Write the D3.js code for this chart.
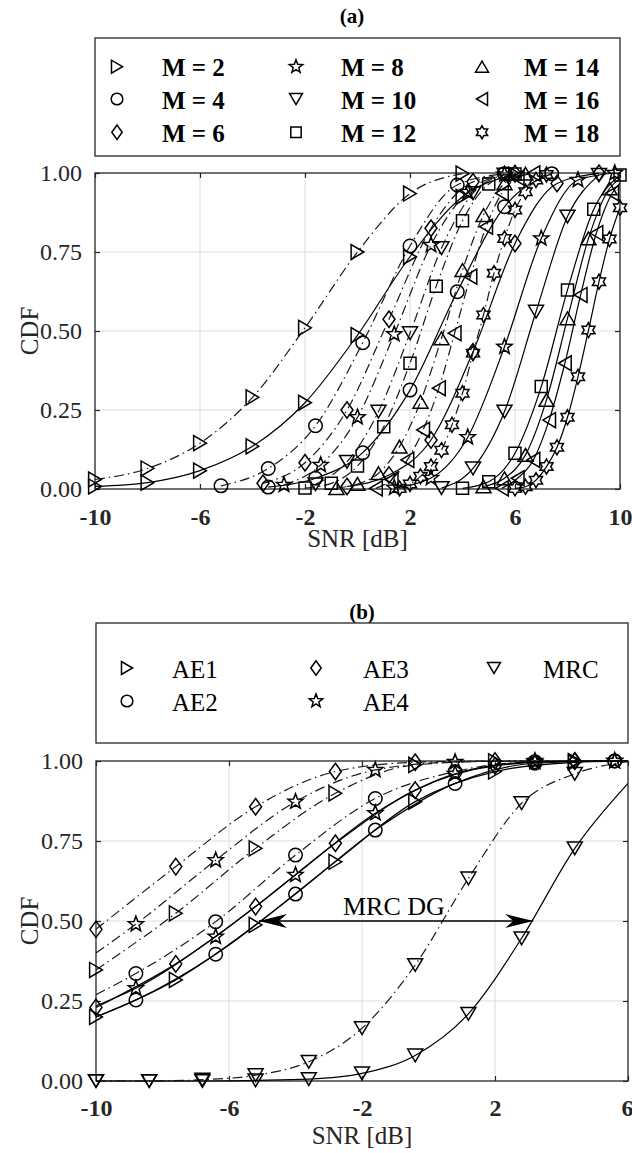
<!DOCTYPE html>
<html>
<head>
<meta charset="utf-8">
<script src="https://cdn.jsdelivr.net/npm/d3@7"></script>
<style>
  body { margin: 0; background: #fff; }
  svg { display: block; font-family: "Liberation Serif", "Times New Roman", serif; }
</style>
</head>
<body>
<div id="chart"></div>
<script>
// ---------- data, panel (a): CDF of SNR for M = 2..18 ----------
const aSnrTicks = [-10, -6, -2, 2, 6, 10];
const bSnrTicks = [-10, -6, -2, 2, 6];
const cdfTicks = [0, 0.25, 0.5, 0.75, 1];

const m2Dash   = [[-10,0.03],[-8,0.065],[-6,0.145],[-4,0.29],[-2,0.51],[0,0.75],[2,0.935],[4,0.998]];
const m2Solid  = [[-10,0.008],[-8,0.02],[-6,0.058],[-4,0.135],[-2,0.273],[0,0.487],[2,0.735],[4,0.925],[6,0.995]];
const m4Dash   = [[-5.2,0.01],[-3.4,0.065],[-1.6,0.2],[0.2,0.463],[2,0.769],[3.8,0.962],[5.6,0.998]];
const m4Solid  = [[-3.4,0.006],[-1.6,0.034],[0.2,0.115],[2,0.313],[3.8,0.624],[5.6,0.893],[7.4,0.998]];
const m6Dash   = [[-3.6,0.018],[-2,0.083],[-0.4,0.25],[1.2,0.537],[2.8,0.825],[4.4,0.972],[6,0.998]];
const m6Solid  = [[-0.4,0.008],[1.2,0.044],[2.8,0.155],[4.4,0.434],[6,0.777],[7.6,0.967],[9.2,0.999]];
const m8Dash   = [[-2.8,0.013],[-1.4,0.076],[0,0.227],[1.4,0.49],[2.8,0.772],[4.2,0.94],[5.6,0.995]];
const m8Solid  = [[1.4,0.004],[2.8,0.035],[4.2,0.164],[5.6,0.45],[7,0.793],[8.4,0.978],[9.8,1]];
const m10Dash  = [[-1.6,0.015],[-0.4,0.086],[0.8,0.245],[2,0.493],[3.2,0.762],[4.4,0.936],[5.6,0.995]];
const m10Solid = [[3.2,0.003],[4.4,0.065],[5.6,0.245],[6.8,0.561],[8,0.862],[9.2,0.994]];
const m12Dash  = [[-2,0.003],[-1,0.018],[0,0.073],[1,0.197],[2,0.398],[3,0.642],[4,0.849],[5,0.965],[6,0.997]];
const m12Solid = [[4,0.002],[5,0.023],[6,0.113],[7,0.324],[8,0.63],[9,0.885],[10,0.994]];
const m14Dash  = [[-0.8,0.003],[0,0.016],[0.8,0.05],[1.6,0.134],[2.4,0.276],[3.2,0.477],[4,0.693],[4.8,0.867],[5.6,0.967],[6.4,0.998]];
const m14Solid = [[4.8,0.008],[5.6,0.034],[6.4,0.108],[7.2,0.282],[8,0.54],[8.8,0.793],[9.6,0.951],[10.4,0.996]];
const m16Dash  = [[0.7,0.002],[1.3,0.03],[1.9,0.092],[2.5,0.187],[3.1,0.319],[3.7,0.493],[4.3,0.672],[4.9,0.83],[5.5,0.936],[6.1,0.985],[6.7,0.999]];
const m16Solid = [[5.5,0.002],[6.1,0.034],[6.7,0.092],[7.3,0.218],[7.9,0.398],[8.5,0.614],[9.1,0.81],[9.7,0.936],[10.3,0.985]];
const m18Dash  = [[1.6,0.002],[2,0.016],[2.4,0.04],[2.8,0.071],[3.2,0.123],[3.6,0.203],[4,0.303],[4.4,0.43],[4.8,0.551],[5.2,0.683],[5.6,0.793],[6,0.883],[6.4,0.941],[6.8,0.978],[7.2,0.995]];
const m18Solid = [[6,0.002],[6.4,0.007],[6.8,0.028],[7.2,0.071],[7.6,0.132],[8,0.227],[8.4,0.355],[8.8,0.503],[9.2,0.656],[9.6,0.791],[10,0.89]];

// ---------- data, panel (b): AE1..AE4 and MRC ----------
const ae1Dash  = [[-10,0.347],[-7.6,0.524],[-5.2,0.727],[-2.8,0.899],[-0.4,0.988],[2,0.999],[4.4,1],[6,1]];
const ae1Solid = [[-10,0.2],[-7.6,0.316],[-5.2,0.488],[-2.8,0.685],[-0.4,0.873],[2,0.967],[4.4,0.996],[6,1]];
const ae2Dash  = [[-10,0.27],[-8.8,0.336],[-6.4,0.498],[-4,0.706],[-1.6,0.883],[0.8,0.967],[3.2,0.998],[5.6,1],[6,1]];
const ae2Solid = [[-10,0.2],[-8.8,0.253],[-6.4,0.396],[-4,0.584],[-1.6,0.784],[0.8,0.93],[3.2,0.993],[5.6,1],[6,1]];
const ae3Dash  = [[-10,0.474],[-7.6,0.67],[-5.2,0.857],[-2.8,0.967],[-0.4,0.996],[2,1],[4.4,1],[6,1]];
const ae3Solid = [[-10,0.23],[-7.6,0.366],[-5.2,0.545],[-2.8,0.743],[-0.4,0.909],[2,0.985],[4.4,1],[6,1]];
const ae4Dash  = [[-10,0.4],[-8.8,0.49],[-6.4,0.69],[-4,0.873],[-1.6,0.972],[0.8,0.997],[3.2,1],[5.6,1],[6,1]];
const ae4Solid = [[-10,0.235],[-8.8,0.29],[-6.4,0.451],[-4,0.644],[-1.6,0.837],[0.8,0.96],[3.2,0.997],[5.6,1],[6,1]];
const mrcDash  = [[-10,0],[-8.4,0],[-6.8,0.004],[-5.2,0.018],[-3.6,0.06],[-2,0.165],[-0.4,0.3625],[1.2,0.633],[2.8,0.868],[4.4,0.96],[6,0.998]];
const mrcSolid = [[-10,0],[-8.4,0],[-6.8,0],[-5.2,0.002],[-3.6,0.006],[-2,0.024],[-0.4,0.08],[1.2,0.21],[2.8,0.446],[4.4,0.727],[6,0.93]];

// SNR values where markers are shown in panel (b)
const aeMarkA = [-10, -7.6, -5.2, -2.8, -0.4, 2, 4.4];
const aeMarkB = [-8.8, -6.4, -4, -1.6, 0.8, 3.2, 5.6];
const mrcMark = [-10, -8.4, -6.8, -5.2, -3.6, -2, -0.4, 1.2, 2.8, 4.4];

// MRC diversity gain arrow (SNR from -> to, at CDF level)
const dgFrom = -5.1, dgTo = 3.15, dgLevel = 0.5;

// ---------- setup ----------
const ink = "#262626";
const svg = d3.select("#chart").append("svg")
    .attr("width", 632)
    .attr("height", 1153);

function markerPath(shape, r) {
    const pts = [];
    switch (shape) {
        case "right": return `M${0.85*r},0L${-0.85*r},${-r}L${-0.85*r},${r}Z`;
        case "left":  return `M${-0.85*r},0L${0.85*r},${-r}L${0.85*r},${r}Z`;
        case "up":    return `M0,${-0.85*r}L${r},${0.85*r}L${-r},${0.85*r}Z`;
        case "down":  return `M0,${0.85*r}L${r},${-0.85*r}L${-r},${-0.85*r}Z`;
        case "square": { const s = 0.8*r; return `M${-s},${-s}H${s}V${s}H${-s}Z`; }
        case "diamond": return `M0,${-1.1*r}L${0.8*r},0L0,${1.1*r}L${-0.8*r},0Z`;
        case "circle": { const c = 0.9*r; return `M${c},0A${c},${c} 0 1,1 ${-c},0A${c},${c} 0 1,1 ${c},0Z`; }
        case "star5":
            for (let i = 0; i < 10; i++) {
                const a = -Math.PI/2 + i*Math.PI/5, rr = i % 2 ? 0.42*r : r;
                pts.push([rr*Math.cos(a), rr*Math.sin(a)]);
            }
            return "M" + pts.join("L") + "Z";
        case "star6":
            for (let i = 0; i < 12; i++) {
                const a = -Math.PI/2 + i*Math.PI/6, rr = i % 2 ? 0.58*r : r;
                pts.push([rr*Math.cos(a), rr*Math.sin(a)]);
            }
            return "M" + pts.join("L") + "Z";
    }
}

function drawPanel(cfg) {
    const x = d3.scaleLinear().domain(cfg.xDomain).range([cfg.left, cfg.right]);
    const y = d3.scaleLinear().domain([0, 1]).range([cfg.bottom, cfg.top]);
    const g = svg.append("g");
    const clipId = "clip-" + cfg.title.replace(/\W/g, "");

    g.append("clipPath").attr("id", clipId)
        .append("rect")
        .attr("x", cfg.left).attr("y", cfg.top - 10)
        .attr("width", cfg.right - cfg.left).attr("height", cfg.bottom - cfg.top + 20);

    // grid
    g.selectAll(".vgrid").data(cfg.xTicks.slice(1, -1)).join("line")
        .attr("x1", d => x(d)).attr("x2", d => x(d))
        .attr("y1", cfg.top).attr("y2", cfg.bottom)
        .attr("stroke", "#dcdcdc").attr("stroke-width", 1);
    g.selectAll(".hgrid").data(cdfTicks.slice(1, -1)).join("line")
        .attr("x1", cfg.left).attr("x2", cfg.right)
        .attr("y1", d => y(d)).attr("y2", d => y(d))
        .attr("stroke", "#dcdcdc").attr("stroke-width", 1);

    // axes
    const bottomAxis = g.append("g")
        .attr("transform", `translate(0,${cfg.bottom})`)
        .call(d3.axisBottom(x).tickValues(cfg.xTicks).tickSize(-5).tickPadding(cfg.xPad)
            .tickFormat(d => String(d)));
    const leftAxis = g.append("g")
        .attr("transform", `translate(${cfg.left},0)`)
        .call(d3.axisLeft(y).tickValues(cdfTicks).tickSize(-5).tickPadding(13)
            .tickFormat(d3.format(".2f")));
    g.append("g").attr("transform", `translate(0,${cfg.top})`)
        .call(d3.axisTop(x).tickValues(cfg.xTicks).tickSize(-5).tickFormat(""));
    g.append("g").attr("transform", `translate(${cfg.right},0)`)
        .call(d3.axisRight(y).tickValues(cdfTicks).tickSize(-5).tickFormat(""));
    g.selectAll(".domain").remove();
    g.selectAll(".tick line").attr("stroke", ink).attr("stroke-width", 1.2);
    bottomAxis.selectAll("text")
        .attr("font-size", 24).attr("font-weight", "bold")
        .attr("font-family", "Liberation Serif, serif").attr("fill", ink);
    // keep the last x label inside the picture when the axis ends at the edge
    bottomAxis.selectAll(".tick").filter(d => x(d) > 620)
        .select("text").attr("text-anchor", "end").attr("dx", 632 - cfg.right + 1);
    leftAxis.selectAll("text")
        .attr("font-size", 24)
        .attr("font-family", "Liberation Serif, serif").attr("fill", ink);

    g.append("rect")
        .attr("x", cfg.left).attr("y", cfg.top)
        .attr("width", cfg.right - cfg.left).attr("height", cfg.bottom - cfg.top)
        .attr("fill", "none").attr("stroke", ink).attr("stroke-width", 1.3);

    // curves
    const line = d3.line()
        .x(d => x(d[0])).y(d => y(d[1]))
        .curve(d3.curveMonotoneX);
    const plot = g.append("g").attr("clip-path", `url(#${clipId})`);
    cfg.series.forEach(s => {
        plot.append("path").datum(s.dash)
            .attr("d", line).attr("fill", "none")
            .attr("stroke", "#1a1a1a").attr("stroke-width", 1.2)
            .attr("stroke-dasharray", "10,4,1.5,4");
        plot.append("path").datum(s.solid)
            .attr("d", line).attr("fill", "none")
            .attr("stroke", "#000").attr("stroke-width", 1.2);
    });
    cfg.series.forEach(s => {
        const keep = d => d[0] >= cfg.xDomain[0] - 1e-6 && d[0] <= cfg.xDomain[1] + 1e-6 &&
            (!s.marks || s.marks.some(m => Math.abs(m - d[0]) < 1e-6));
        const pts = s.dash.filter(keep).concat(s.solid.filter(keep));
        g.append("g").selectAll("path").data(pts).join("path")
            .attr("transform", d => `translate(${x(d[0])},${y(d[1])})`)
            .attr("d", markerPath(s.shape, s.shape === "star5" ? 8 : 7.5))
            .attr("fill", "none").attr("stroke", "#000").attr("stroke-width", 1.5);
    });

    // labels
    svg.append("text")
        .attr("x", 29).attr("y", (cfg.top + cfg.bottom) / 2)
        .attr("transform", `rotate(-90,29,${(cfg.top + cfg.bottom) / 2})`)
        .attr("text-anchor", "middle").attr("dominant-baseline", "central")
        .attr("font-size", 25).attr("fill", ink).text("CDF");
    svg.append("text")
        .attr("x", (cfg.left + cfg.right) / 2).attr("y", cfg.snrLabelY)
        .attr("text-anchor", "middle")
        .attr("font-size", 25).attr("fill", ink).text("SNR [dB]");
    svg.append("text")
        .attr("x", cfg.titleX).attr("y", cfg.titleY)
        .attr("text-anchor", "middle").attr("dominant-baseline", "central")
        .attr("font-size", 21).attr("font-weight", "bold").attr("fill", "#000").text(cfg.title);

    // legend
    const L = cfg.legend;
    const lg = svg.append("g");
    lg.append("rect")
        .attr("x", L.box[0]).attr("y", L.box[1])
        .attr("width", L.box[2] - L.box[0]).attr("height", L.box[3] - L.box[1])
        .attr("fill", "#fff").attr("stroke", ink).attr("stroke-width", 1.3);
    cfg.series.forEach((s, i) => {
        const col = Math.floor(i / L.rows.length), row = i % L.rows.length;
        lg.append("path")
            .attr("transform", `translate(${L.symX[col]},${L.rows[row]})`)
            .attr("d", markerPath(s.shape, s.shape === "star5" ? 7 : 6.5))
            .attr("fill", "none").attr("stroke", "#000").attr("stroke-width", 1.5);
        lg.append("text")
            .attr("x", L.textX[col]).attr("y", L.rows[row] + 9.5)
            .attr("font-size", 25).attr("font-weight", L.weight)
            .attr("fill", "#000").text(s.label);
    });
    return {x, y, g};
}

// ---------- panel (a) ----------
drawPanel({
    title: "(a)", titleX: 352, titleY: 16,
    left: 95, right: 620, top: 173, bottom: 489,
    xDomain: [-10, 10], xTicks: aSnrTicks, xPad: 19, snrLabelY: 547,
    legend: {box: [95, 38, 620, 156], rows: [66.7, 99, 132.3],
             symX: [117, 296, 482], textX: [162, 341, 524], weight: "bold"},
    series: [
        {label: "M = 2",  shape: "right",   dash: m2Dash,  solid: m2Solid},
        {label: "M = 4",  shape: "circle",  dash: m4Dash,  solid: m4Solid},
        {label: "M = 6",  shape: "diamond", dash: m6Dash,  solid: m6Solid},
        {label: "M = 8",  shape: "star5",   dash: m8Dash,  solid: m8Solid},
        {label: "M = 10", shape: "down",    dash: m10Dash, solid: m10Solid},
        {label: "M = 12", shape: "square",  dash: m12Dash, solid: m12Solid},
        {label: "M = 14", shape: "up",      dash: m14Dash, solid: m14Solid},
        {label: "M = 16", shape: "left",    dash: m16Dash, solid: m16Solid},
        {label: "M = 18", shape: "star6",   dash: m18Dash, solid: m18Solid}
    ]
});

// ---------- panel (b) ----------
const pb = drawPanel({
    title: "(b)", titleX: 362, titleY: 612,
    left: 96, right: 628, top: 761, bottom: 1081,
    xDomain: [-10, 6], xTicks: bSnrTicks, xPad: 18, snrLabelY: 1144,
    legend: {box: [96, 623, 628, 743], rows: [668, 701],
             symX: [127, 316, 494], textX: [172, 363, 543], weight: "normal"},
    series: [
        {label: "AE1", shape: "right",   dash: ae1Dash, solid: ae1Solid, marks: aeMarkA},
        {label: "AE2", shape: "circle",  dash: ae2Dash, solid: ae2Solid, marks: aeMarkB},
        {label: "AE3", shape: "diamond", dash: ae3Dash, solid: ae3Solid, marks: aeMarkA},
        {label: "AE4", shape: "star5",   dash: ae4Dash, solid: ae4Solid, marks: aeMarkB},
        {label: "MRC", shape: "down",    dash: mrcDash, solid: mrcSolid, marks: mrcMark}
    ]
});

// MRC diversity-gain annotation
const ay = pb.y(dgLevel), ax0 = pb.x(dgFrom), ax1 = pb.x(dgTo);
pb.g.append("line")
    .attr("x1", ax0).attr("x2", ax1).attr("y1", ay).attr("y2", ay)
    .attr("stroke", "#000").attr("stroke-width", 1.3);
const head = "M0,0L28,-7L20,0L28,7Z";
pb.g.append("path").attr("d", head)
    .attr("transform", `translate(${ax0},${ay})`).attr("fill", "#000");
pb.g.append("path").attr("d", head)
    .attr("transform", `translate(${ax1},${ay}) scale(-1,1)`).attr("fill", "#000");
pb.g.append("text")
    .attr("x", 343).attr("y", 915)
    .attr("font-size", 26).attr("fill", "#000").text("MRC DG");
</script>
</body>
</html>
